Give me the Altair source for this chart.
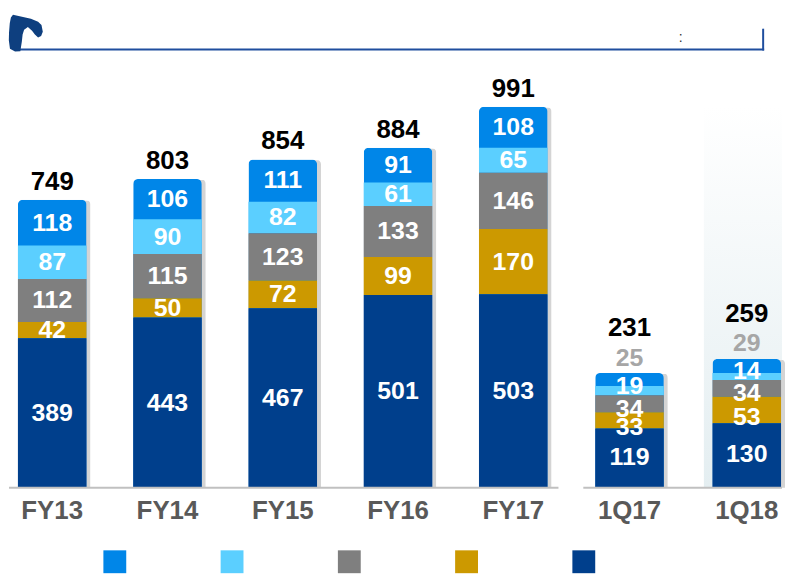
import altair as alt
import pandas as pd

# ---------------- data ----------------
categories = ["FY13", "FY14", "FY15", "FY16", "FY17", "1Q17", "1Q18"]
fy_categories = ["FY13", "FY14", "FY15", "FY16", "FY17"]
q_categories = ["1Q17", "1Q18"]

# series listed top of stack -> bottom of stack (legend order)
series_names = ["Series A", "Series B", "Series C", "Series D", "Series E"]
series_colors = ["#0086E8", "#5BCFFF", "#7F7F7F", "#CC9900", "#003F8C"]

seg_a = [118, 106, 111, 91, 108, 25, 29]    # blue (top)
seg_b = [87, 90, 82, 61, 65, 19, 14]        # light blue
seg_c = [112, 115, 123, 133, 146, 34, 34]   # gray
seg_d = [42, 50, 72, 99, 170, 33, 53]       # gold
seg_e = [389, 443, 467, 501, 503, 119, 130] # dark blue (bottom)
totals = [749, 803, 854, 884, 991, 231, 259]

FONT = "Liberation Sans"

rows = []
for s_idx, (name, vals) in enumerate(zip(series_names, [seg_a, seg_b, seg_c, seg_d, seg_e])):
    for c, v in zip(categories, vals):
        rows.append({"cat": c, "series": name, "value": v, "order": 4 - s_idx})
seg_df = pd.DataFrame(rows)
tot_df = pd.DataFrame({"cat": categories, "total": totals})
one_row = pd.DataFrame({"k": [0]})

color_scale = alt.Scale(domain=series_names, range=series_colors)
legend = alt.Legend(
    orient="none", legendX=95, legendY=544, direction="horizontal", title=None,
    symbolType="square", symbolSize=529, symbolStrokeWidth=0, labelExpr="''",
    labelOffset=0, columnPadding=95, symbolOpacity=1,
)

# per-series label nudges in the small quarter bars (labels crowd there)
# order: 0 dark blue, 1 gold, 2 gray, 3 light blue
q_label_dy = {0: -1, 1: 7, 2: 5, 3: -5}

LOGO = ("M -0.71 -0.95 L 0.24 -0.74 L 0.62 -0.58 L 0.8 -0.4 L 0.87 -0.05 L 0.78 0.18 "
        "L 0.62 0.26 L 0.45 0.1 L 0.3 -0.1 L 0.08 -0.3 L -0.12 -0.15 L -0.2 0.1 L -0.24 0.47 "
        "L -0.32 0.98 L -0.6 1.0 L -0.87 0.85 L -0.93 0.4 L -0.92 0.0 L -0.88 -0.5 L -0.82 -0.8 Z")


def panel(cats, width, p_in, p_out, align, ymax, quarter):
    xs = alt.X(
        "cat:N", sort=cats,
        scale=alt.Scale(domain=cats, paddingInner=p_in, paddingOuter=p_out, align=align),
        axis=alt.Axis(title=None, domain=False, ticks=False, labelAngle=0, labelFont=FONT,
                      labelFontSize=26, labelFontWeight="bold", labelColor="#595959",
                      labelPadding=10),
    )
    ys = alt.Scale(domain=[0, ymax])
    segs = seg_df[seg_df["cat"].isin(cats)]
    tots = tot_df[tot_df["cat"].isin(cats)]

    layers = []
    if quarter:
        layers.append(
            alt.Chart(tots[tots["cat"] == "1Q18"]).mark_bar(
                width=alt.RelativeBandSize(1.25), clip=True,
                color=alt.Gradient(gradient="linear", x1=0, y1=0, x2=0, y2=1,
                                   stops=[alt.GradientStop(offset=0, color="#ffffff"),
                                          alt.GradientStop(offset=1, color="#E4EEF1")]),
            ).encode(x=xs, y=alt.value(97), y2=alt.value(481))
        )
    shadow = alt.Chart(tots).mark_bar(
        xOffset=4, yOffset=1, color="#D4D4D4", cornerRadiusTopLeft=5, cornerRadiusTopRight=5
    ).encode(x=xs, y=alt.Y("total:Q", scale=ys, axis=None))
    top = alt.Chart(tots).mark_bar(
        color=series_colors[0], cornerRadiusTopLeft=5, cornerRadiusTopRight=5
    ).encode(x=xs, y=alt.Y("total:Q", scale=ys, axis=None))
    stacked = alt.Chart(segs).transform_stack(
        stack="value", groupby=["cat"], as_=["y0", "y1"], sort=[alt.SortField("order")]
    ).transform_calculate(mid="(datum.y0 + datum.y1) / 2")
    bars = stacked.transform_filter("datum.order < 4").mark_bar().encode(
        x=xs,
        y=alt.Y("y0:Q", scale=ys, axis=None),
        y2="y1:Q",
        color=alt.Color("series:N", scale=color_scale, legend=legend),
    )
    layers += [shadow, top, bars]
    if quarter:
        for o in range(4):
            layers.append(
                stacked.transform_filter(f"datum.order == {o}").mark_text(
                    font=FONT, fontSize=25, fontWeight="bold", color="white", baseline="middle",
                    dy=q_label_dy[o],
                ).encode(x=xs, y=alt.Y("mid:Q", scale=ys, axis=None), text="value:Q")
            )
        layers.append(
            stacked.transform_filter("datum.order == 4").mark_text(
                font=FONT, fontSize=25, fontWeight="bold", color="#A6A6A6", baseline="middle", dy=-16
            ).encode(x=xs, y=alt.Y("y1:Q", scale=ys, axis=None), text="value:Q")
        )
    else:
        layers.append(
            stacked.mark_text(
                font=FONT, fontSize=25, fontWeight="bold", color="white", baseline="middle"
            ).encode(x=xs, y=alt.Y("mid:Q", scale=ys, axis=None), text="value:Q")
        )
    layers.append(
        alt.Chart(tots).mark_text(
            font=FONT, fontSize=26, fontWeight="bold", color="black", baseline="middle",
            dy=-45 if quarter else -18,
        ).encode(x=xs, y=alt.Y("total:Q", scale=ys, axis=None), text="total:Q")
    )
    # baseline
    layers.append(
        alt.Chart(one_row).mark_rule(color="#C0C0C0", strokeWidth=2).encode(
            x=alt.value(-4 if quarter else 0), x2=alt.value(width), y=alt.value(481)
        )
    )
    if not quarter:
        # header decoration
        layers.append(
            alt.Chart(one_row).mark_rule(color="#1F4E9E", strokeWidth=2).encode(
                x=alt.value(7), x2=alt.value(760), y=alt.value(40))
        )
        layers.append(
            alt.Chart(one_row).mark_rule(color="#1F4E9E", strokeWidth=2).encode(
                x=alt.value(759), y=alt.value(19), y2=alt.value(41))
        )
        layers.append(
            alt.Chart(one_row).mark_text(text=":", font=FONT, fontSize=14, color="#333333").encode(
                x=alt.value(676), y=alt.value(28))
        )
        layers.append(
            alt.Chart(one_row).mark_point(
                shape=LOGO, filled=True, color="#0E3F7F", size=1444, opacity=1,
            ).encode(x=alt.value(17.5), y=alt.value(23))
        )
    return alt.layer(*layers).properties(width=width, height=481)


left = panel(fy_categories, 553, 0.405, 0.086, 0.45, 1243, False)
right = panel(q_categories, 196, 0.415, 0.038, 0.89, 962, True)

chart = alt.hconcat(left, right, spacing=29, bounds="flush").properties(
    padding=0, background="white"
).configure_view(stroke=None)

chart.save("out.html", embed_options={"renderer": "svg", "actions": False})
